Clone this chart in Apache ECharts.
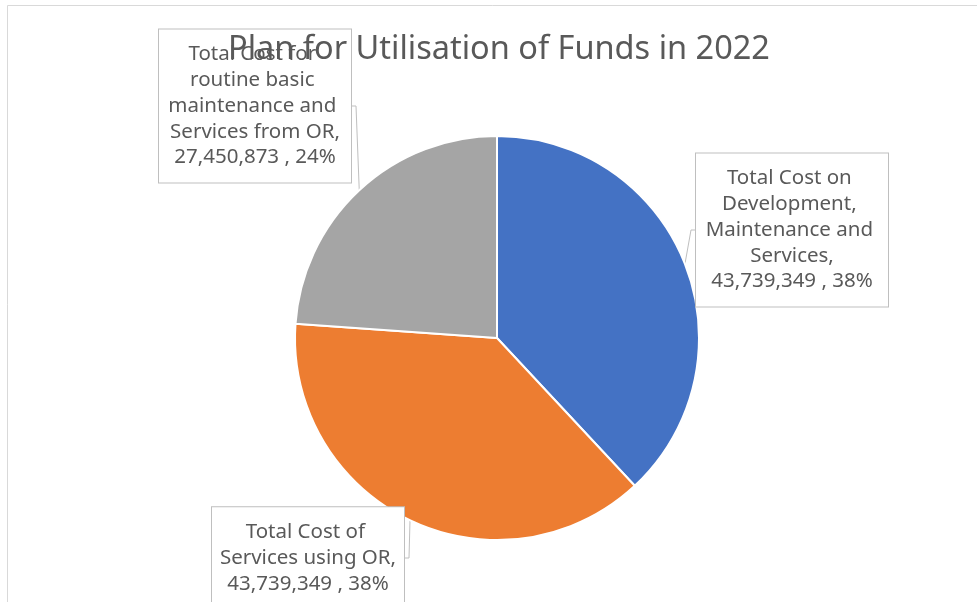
<!DOCTYPE html>
<html>
<head>
<meta charset="utf-8">
<title>Plan for Utilisation of Funds in 2022</title>
<script src="https://cdn.jsdelivr.net/npm/echarts@6/dist/echarts.min.js"></script>
<style>
  html, body { margin: 0; padding: 0; background: #fff; }
  #main { width: 977px; height: 602px; }
</style>
</head>
<body>
<div id="main"></div>
<script>
// data
const categories = [
  "Total Cost on Development, Maintenance and Services",
  "Total Cost of Services using OR",
  "Total Cost for routine basic maintenance and Services from OR"
];
const values = [43739349, 43739349, 27450873];
const colors = ["#4472c4", "#ed7d31", "#a5a5a5"];

// where each callout box sits (box centre), by slice index
const labelSpots = [
  { x: 792, y: 230 },
  { x: 308, y: 558 },
  { x: 255, y: 106 }
];

const chart = echarts.init(document.getElementById("main"));

const option = {
  animation: false,
  backgroundColor: "#fff",
  textStyle: { fontFamily: "Noto Sans" },
  title: {
    text: "Plan for Utilisation of Funds in 2022",
    left: 223,
    top: 28,
    textStyle: {
      color: "#595959",
      fontSize: 32.5,
      fontWeight: "normal",
      fontFamily: "Noto Sans"
    }
  },
  graphic: [
    {
      type: "rect",
      left: 5,
      top: 3,
      silent: true,
      shape: { width: 1000, height: 640 },
      style: { fill: "none", stroke: "#d9d9d9", lineWidth: 1 }
    }
  ],
  series: [
    {
      type: "pie",
      center: [497, 338],
      radius: 202,
      startAngle: 90,
      clockwise: true,
      avoidLabelOverlap: false,
      itemStyle: { borderColor: "#fff", borderWidth: 2 },
      label: {
        show: true,
        position: "outside",
        color: "#595959",
        fontSize: 20.5,
        lineHeight: 25.8,
        width: 186,
        overflow: "break",
        align: "center",
        backgroundColor: "#fff",
        borderColor: "#bfbfbf",
        borderWidth: 1,
        padding: [12, 3, 12, 3],
        formatter: function (p) {
          return p.name + ",\n" + p.value.toLocaleString("en-US") + " , " + Math.round(p.percent) + "%";
        }
      },
      labelLine: {
        show: true,
        length: 8,
        length2: 4,
        lineStyle: { color: "#bfbfbf", width: 1 }
      },
      labelLayout: function (params) {
        const s = labelSpots[params.dataIndex];
        return { x: s.x, y: s.y, align: "center", verticalAlign: "middle" };
      },
      data: categories.map(function (name, i) {
        return { name: name, value: values[i], itemStyle: { color: colors[i] } };
      })
    }
  ]
};

chart.setOption(option);
</script>
</body>
</html>
